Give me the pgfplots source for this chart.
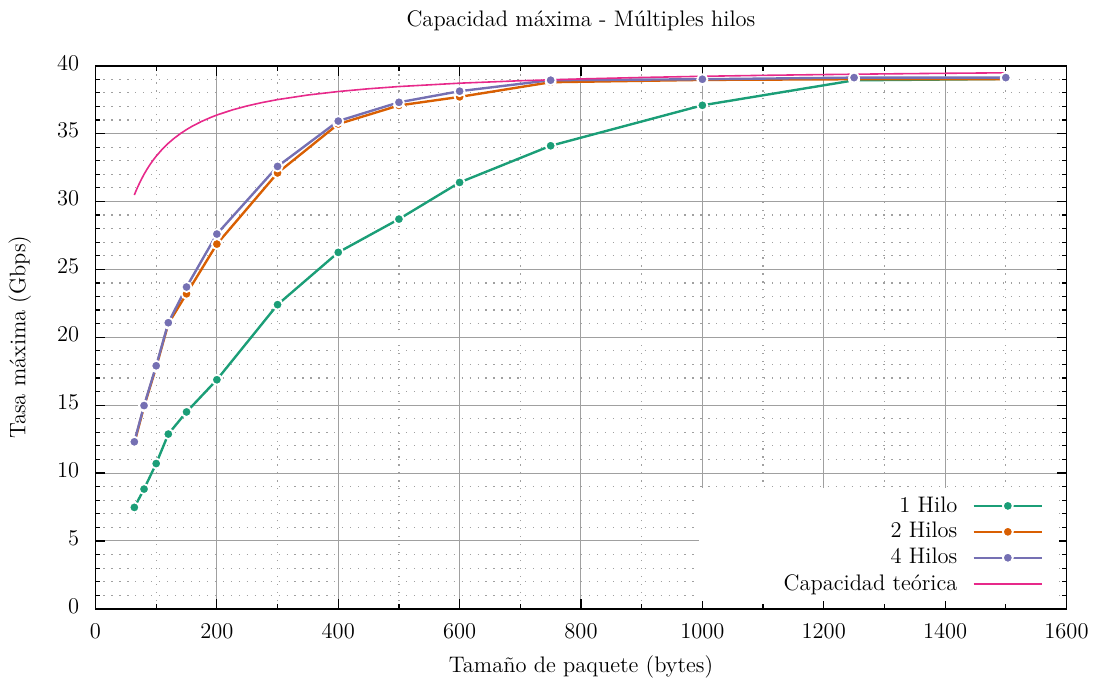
\documentclass[border=0pt]{standalone}
\usepackage{pgfplots}
\pgfplotsset{compat=1.18}
\definecolor{cA}{HTML}{1B9E77}
\definecolor{cB}{HTML}{D95F02}
\definecolor{cC}{HTML}{7570B3}
\definecolor{cD}{HTML}{E7298A}
\definecolor{gridc}{RGB}{160,160,160}
\begin{document}
\fontsize{11.3}{13.5}\selectfont
\begin{tikzpicture}
\begin{axis}[
  scale only axis,
  width=488pt, height=273pt,
  xmin=0, xmax=1600, ymin=0, ymax=40,
  xtick={0,200,...,1600}, ytick={0,5,...,40},
  minor x tick num=1, minor y tick num=4,
  tick align=inside,
  major tick length=5pt, minor tick length=2.5pt,
  every tick/.style={black, line width=0.6pt},
  axis line style={black, line width=0.9pt},
  grid=both,
  major grid style={gridc, line width=0.5pt},
  minor grid style={gridc, line width=0.6pt, dash pattern=on 0.6pt off 3.4pt},
  /pgf/number format/assume math mode=true,
  /pgf/number format/1000 sep={},
  xticklabel style={yshift=-3.5pt},
  yticklabel style={xshift=-4.3pt, yshift=1.5pt},
  every axis title shift=0pt,
  title={Capacidad m\'axima - M\'ultiples hilos},
  title style={at={(axis description cs:0.5,1.0714)}, anchor=base, inner sep=0pt},
  xlabel={Tama\~no de paquete (bytes)},
  xlabel style={at={(axis description cs:0.5,-0.1172)}, anchor=base, inner sep=0pt},
  ylabel={Tasa m\'axima (Gbps)},
  every axis y label/.style={at={(axis description cs:-0.078,0.5)}, rotate=90, anchor=center, inner sep=0pt},
  legend style={at={(rel axis cs:0.993,0.013)}, anchor=south east, draw=none, fill=white,
    legend plot pos=right, cells={anchor=east}, row sep=-0.5pt, inner xsep=0pt, inner ysep=2pt,
    column sep=5.5pt, font=\fontsize{11.3}{13.5}\selectfont},
  legend image code/.code={\draw[mark repeat=2,mark phase=2] plot coordinates {(0pt,0pt)(17.25pt,0pt)(34.5pt,0pt)}; \path (42.5pt,0pt);},
  every axis plot/.append style={line width=1.2pt},
]
\addplot[cA, mark=*, mark size=2.5pt, mark options={fill=cA, draw=white, line width=0.9pt}] coordinates {
(64,7.47)(80,8.82)(100,10.7)(120,12.87)(150,14.5)(200,16.87)(300,22.4)(400,26.25)(500,28.7)(600,31.4)(750,34.1)(1000,37.08)(1250,38.92)(1500,39.02)};
\addlegendentry{\makebox[128pt][r]{1 Hilo}}
\addplot[cB, mark=*, mark size=2.5pt, mark options={fill=cB, draw=white, line width=0.9pt}] coordinates {
(64,12.2)(80,14.9)(100,17.8)(120,21.0)(150,23.2)(200,26.86)(300,32.1)(400,35.7)(500,37.07)(600,37.7)(750,38.78)(1000,38.95)(1250,39.0)(1500,39.0)};
\addlegendentry{\makebox[128pt][r]{2 Hilos}}
\addplot[cC, mark=*, mark size=2.5pt, mark options={fill=cC, draw=white, line width=0.9pt}] coordinates {
(64,12.3)(80,14.97)(100,17.9)(120,21.07)(150,23.7)(200,27.6)(300,32.58)(400,35.92)(500,37.3)(600,38.12)(750,38.93)(1000,39.0)(1250,39.12)(1500,39.12)};
\addlegendentry{\makebox[128pt][r]{4 Hilos}}
\addplot[cD, line width=0.8pt] coordinates {
(64,30.476)(66,30.698)(68,30.909)(70,31.111)(75,31.579)(80,32.000)(85,32.381)(90,32.727)(95,33.043)(100,33.333)(110,33.846)(120,34.286)(130,34.667)(140,35.000)(150,35.294)(160,35.556)(175,35.897)(190,36.190)(200,36.364)(225,36.735)(250,37.037)(275,37.288)(300,37.500)(350,37.838)(400,38.095)(450,38.298)(500,38.462)(600,38.710)(700,38.889)(800,39.024)(900,39.130)(1000,39.216)(1100,39.286)(1200,39.344)(1300,39.394)(1400,39.437)(1500,39.474)};
\addlegendentry{\makebox[128pt][r]{Capacidad te\'orica}}
\end{axis}
\path[use as bounding box] ([xshift=-48pt,yshift=-36pt]current axis.south west) rectangle ([xshift=12pt,yshift=33pt]current axis.north east);
\end{tikzpicture}
\end{document}
